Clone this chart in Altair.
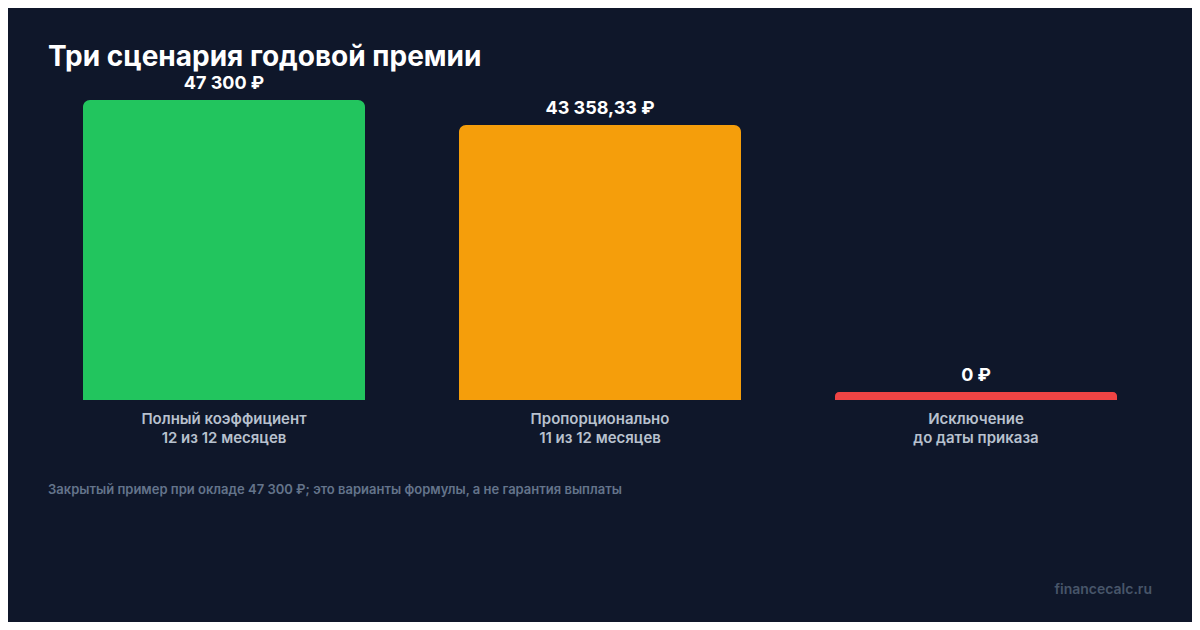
import altair as alt
import pandas as pd

categories = ["Полный коэффициент|12 из 12 месяцев",
              "Пропорционально|11 из 12 месяцев",
              "Исключение|до даты приказа"]
values = [47300, 43358.33]
values = values + [0]
labels = ["47 300 ₽", "43 358,33 ₽", "0 ₽"]
colors = ["#22c55e", "#f59e0b", "#ef4444"]

title_text = "Три сценария годовой премии"
footnote = "Закрытый пример при окладе 47 300 ₽; это варианты формулы, а не гарантия выплаты"
watermark = "financecalc.ru"

df = pd.DataFrame({"cat": categories, "value": values, "label": labels, "color": colors})

FONT = "Inter"
MAXV = 47300
MIN_BAR = MAXV * 8 / 300

base = alt.Chart(df).transform_calculate(
    shown=f"max(datum.value, {MIN_BAR})"
).encode(
    x=alt.X("cat:N", sort=categories,
            scale=alt.Scale(paddingInner=0.25, paddingOuter=0.125),
            axis=alt.Axis(title=None, domain=False, ticks=False, grid=False,
                          labelAngle=0, labelPadding=11, labelFontSize=15,
                          labelFontWeight=600, labelColor="#b8c1ce", labelFont=FONT,
                          labelLineHeight=19, labelBaseline="top",
                          labelExpr="split(datum.label, '|')"))
)

bars = base.mark_bar(cornerRadiusTopLeft=7, cornerRadiusTopRight=7).encode(
    y=alt.Y("shown:Q", scale=alt.Scale(domain=[0, MAXV], nice=False), axis=None),
    color=alt.Color("color:N", scale=None),
)

text = base.mark_text(dy=-16, fontSize=18, fontWeight="bold", font=FONT,
                      color="#ffffff", baseline="middle").encode(
    y=alt.Y("shown:Q"),
    text="label:N",
)

foot = alt.Chart(pd.DataFrame({"t": [footnote]})).mark_text(
    align="left", baseline="middle", fontSize=13, fontWeight=600, font=FONT,
    color="#64748b").encode(x=alt.value(12), y=alt.value(390), text="t:N")

wm = alt.Chart(pd.DataFrame({"t": [watermark]})).mark_text(
    align="right", baseline="middle", fontSize=14, fontWeight=600, font=FONT,
    color="#475569").encode(x=alt.value(1116), y=alt.value(490), text="t:N")

chart = alt.layer(bars, text, foot, wm).properties(
    width=1128, height=300,
    autosize=alt.AutoSizeParams(type="none"),
    padding={"left": 28, "top": 92, "right": 28, "bottom": 222},
    background="#0f172a",
    title=alt.TitleParams(title_text, anchor="start", dx=12, dy=1, offset=4,
                          fontSize=28, fontWeight="bold", font=FONT, color="#ffffff"),
).configure_view(stroke=None)

chart.save("out.html", embed_options={"renderer": "svg", "actions": False})
